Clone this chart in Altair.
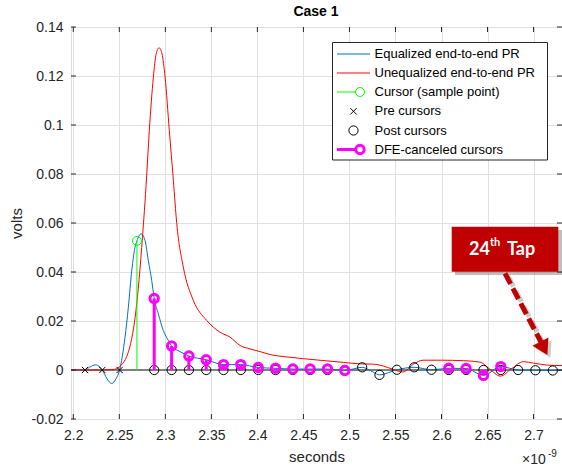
import altair as alt
import pandas as pd

# ---------------- data ----------------
# time axis in units of 1e-9 s
blue_t = [2.1975, 2.2050, 2.2127, 2.2180, 2.2240, 2.2290, 2.2315, 2.2365, 2.2417, 2.2465,
          2.2503, 2.2562, 2.2598, 2.2635, 2.2670, 2.2691, 2.2736, 2.2779, 2.2815, 2.2852,
          2.2879, 2.2924, 2.2978, 2.3033, 2.3068, 2.3160, 2.3256, 2.3444, 2.3632, 2.3820,
          2.4009, 2.4197, 2.4385, 2.4573, 2.4761, 2.4950, 2.5138, 2.5255, 2.5326, 2.5515,
          2.5703, 2.5891, 2.6079, 2.6267, 2.6456, 2.6644, 2.6832, 2.7020, 2.7209, 2.7309]
blue_v = [0.0, 0.0, 0.0, 0.0012, 0.0021, 0.0012, 0.0, -0.0035, -0.0055, -0.0035,
          0.0, 0.0134, 0.0256, 0.0406, 0.0501, 0.0527, 0.0556, 0.0529, 0.0447, 0.0365,
          0.0292, 0.0229, 0.0161, 0.0120, 0.0098, 0.0075, 0.0057, 0.0042, 0.0022, 0.0022,
          0.0010, 0.0007, 0.0004, 0.0004, 0.0004, -0.0002, 0.0011, -0.0008, -0.0020, 0.0001,
          0.0011, 0.0001, 0.0007, 0.0006, -0.0022, 0.0014, 0.0, -0.0001, -0.0002, -0.0002]

red_t = [2.1975, 2.2300, 2.2450, 2.2520, 2.2580, 2.2630, 2.2670, 2.2705, 2.2743, 2.2790,
         2.2826, 2.2870, 2.2900, 2.2931, 2.2964, 2.2997, 2.3043, 2.3087, 2.3124, 2.3195,
         2.3304, 2.3450, 2.3595, 2.3703, 2.3812, 2.3920, 2.4030, 2.4138, 2.4355, 2.4645,
         2.4935, 2.5116, 2.5250, 2.5370, 2.5480, 2.5580, 2.5700, 2.5800, 2.6000, 2.6240,
         2.6420, 2.6520, 2.6640, 2.6760, 2.6890, 2.7000, 2.7150, 2.7309]
red_v = [0.0, 0.0, 0.0003, 0.0020, 0.0055, 0.0120, 0.0210, 0.0330, 0.0500, 0.0750,
         0.0978, 0.1196, 0.1290, 0.1315, 0.1290, 0.1196, 0.0978, 0.0774, 0.0597, 0.0420,
         0.0284, 0.0202, 0.0154, 0.0134, 0.0100, 0.0086, 0.0075, 0.0063, 0.0052, 0.0041,
         0.0031, 0.0025, 0.0024, 0.0016, 0.0002, -0.0008, 0.0025, 0.0040, 0.0040, 0.0038,
         0.0032, 0.0005, -0.0025, 0.0005, 0.0034, 0.0028, 0.0020, 0.0018]

cursor_t = [2.2691]
cursor_v = [0.0527]

pre_t = [2.2127, 2.2315, 2.2503]
pre_v = [0.0, 0.0, 0.0]

post_t = [2.2879, 2.3068, 2.3256, 2.3444, 2.3632, 2.3820, 2.4009, 2.4197, 2.4385, 2.4573,
          2.4761, 2.4950, 2.5138, 2.5326, 2.5515, 2.5703, 2.5891, 2.6079, 2.6267, 2.6456,
          2.6644, 2.6832, 2.7020, 2.7209]
post_v = [0.0292, 0.0098, 0.0057, 0.0042, 0.0022, 0.0022, 0.0010, 0.0007, 0.0004, 0.0004,
          0.0004, -0.0002, 0.0011, -0.0020, 0.0001, 0.0011, 0.0001, 0.0007, 0.0006, -0.0022,
          0.0014, 0.0, -0.0001, -0.0002]
dfe_flag = [1, 1, 1, 1, 1, 1, 1, 1, 1, 1,
            1, 1, 0, 0, 0, 0, 0, 1, 1, 1,
            1, 0, 0, 0]

x_ticks = [2.2, 2.25, 2.3, 2.35, 2.4, 2.45, 2.5, 2.55, 2.6, 2.65, 2.7]
y_ticks = [-0.02, 0.0, 0.02, 0.04, 0.06, 0.08, 0.1, 0.12, 0.14]

legend_labels = ["Equalized end-to-end PR", "Unequalized end-to-end PR", "Cursor (sample point)",
                 "Pre cursors", "Post cursors", "DFE-canceled cursors"]
chart_title = "Case 1"

# ---------------- layout ----------------
PL, PT = 71, 27
W, H = 491, 392
FONT = "Liberation Sans"
AXC = "#262626"
BLUE, RED, GREEN, MAG = "#0072BD", "#FF0000", "#00FF00", "#FF00FF"
DARKRED = "#C00000"


def rx(px):
    return px - PL


def ry(py):
    return py - PT


xs = alt.Scale(domain=[2.1975, 2.7309], nice=False, zero=False)
ys = alt.Scale(domain=[-0.02, 0.14], nice=False, zero=False)

blue_df = pd.DataFrame({"t": blue_t, "v": blue_v})
red_df = pd.DataFrame({"t": red_t, "v": red_v})
cur_df = pd.DataFrame({"t": cursor_t, "v": cursor_v, "z": [0.0]})
pre_df = pd.DataFrame({"t": pre_t, "v": pre_v})
post_df = pd.DataFrame({"t": post_t, "v": post_v, "dfe": dfe_flag})
post_df["shown"] = [0.0 if f else v for v, f in zip(post_v, dfe_flag)]
post_df["z"] = 0.0
dfe_df = post_df[post_df["dfe"] == 1]
xt_df = pd.DataFrame({"t": x_ticks})
yt_df = pd.DataFrame({"v": y_ticks})
zero_df = pd.DataFrame({"v": [0.0]})
dummy = pd.DataFrame({"a": [0]})

x_axis = alt.Axis(values=x_ticks, format="~g", title="seconds", grid=True, gridColor="#e0e0e0",
                  ticks=False, domain=False, labelFont=FONT, labelFontSize=14, labelColor=AXC,
                  labelPadding=9, labelFlush=False, titleFont=FONT, titleFontSize=15,
                  titleFontWeight="normal", titleColor=AXC, titlePadding=7)
y_axis = alt.Axis(values=y_ticks,
                  labelExpr="datum.value < 0 ? '-' + format(-datum.value, '~g') : format(datum.value, '~g')",
                  title="volts", grid=True, gridColor="#e0e0e0", ticks=False, domain=False,
                  labelFont=FONT, labelFontSize=14, labelColor=AXC, labelPadding=8, labelFlush=False,
                  titleFont=FONT, titleFontSize=15, titleFontWeight="normal", titleColor=AXC,
                  titlePadding=7)


def X(f="t"):
    return alt.X(f"{f}:Q", scale=xs, axis=x_axis)


def Y(f="v"):
    return alt.Y(f"{f}:Q", scale=ys, axis=y_axis)


layers = []

# stem baseline
layers.append(alt.Chart(zero_df).mark_rule(color="#808080", strokeWidth=2).encode(
    y=Y(), x=alt.value(0), x2=alt.value(W)))
# curves
layers.append(alt.Chart(blue_df).mark_line(color=BLUE, strokeWidth=1, interpolate="monotone", clip=True).encode(
    x=X(), y=Y()))
layers.append(alt.Chart(red_df).mark_line(color=RED, strokeWidth=1, interpolate="monotone", clip=True).encode(
    x=X(), y=Y()))
# main cursor
layers.append(alt.Chart(cur_df).mark_rule(color=GREEN, strokeWidth=1).encode(x=X(), y=Y(), y2="z:Q"))
layers.append(alt.Chart(cur_df).mark_point(shape="circle", filled=False, color=GREEN, size=80,
                                           strokeWidth=1, opacity=1).encode(x=X(), y=Y()))
# pre cursors
XSHAPE = "M-1,-1L1,1M-1,1L1,-1"
layers.append(alt.Chart(pre_df).mark_point(shape=XSHAPE, filled=False, color="black", size=40,
                                           strokeWidth=1, opacity=1).encode(x=X(), y=Y()))
# post cursors
layers.append(alt.Chart(post_df).mark_point(shape="circle", filled=False, color="black", size=85,
                                            strokeWidth=1, opacity=1).encode(x=X(), y=Y("shown")))
# DFE-canceled cursors
layers.append(alt.Chart(dfe_df).mark_rule(color=MAG, strokeWidth=3).encode(x=X(), y=Y(), y2="z:Q"))
layers.append(alt.Chart(dfe_df).mark_point(shape="circle", filled=False, color=MAG, size=70,
                                           strokeWidth=3, opacity=1).encode(x=X(), y=Y()))

# inward tick marks on all four sides
layers.append(alt.Chart(xt_df).mark_rule(color=AXC).encode(x=X(), y=alt.value(H), y2=alt.value(H - 5)))
layers.append(alt.Chart(xt_df).mark_rule(color=AXC).encode(x=X(), y=alt.value(0), y2=alt.value(5)))
layers.append(alt.Chart(yt_df).mark_rule(color=AXC).encode(y=Y(), x=alt.value(0), x2=alt.value(5)))
layers.append(alt.Chart(yt_df).mark_rule(color=AXC).encode(y=Y(), x=alt.value(W), x2=alt.value(W - 5)))


def vrule(x1, y1, x2, y2, **kw):
    return alt.Chart(dummy).mark_rule(**kw).encode(
        x=alt.value(rx(x1)), y=alt.value(ry(y1)), x2=alt.value(rx(x2)), y2=alt.value(ry(y2)))


def vpoint(x, y, **kw):
    return alt.Chart(dummy).mark_point(**kw).encode(x=alt.value(rx(x)), y=alt.value(ry(y)))


def vtext(txt, x, y, **kw):
    return alt.Chart(dummy).mark_text(text=txt, **kw).encode(x=alt.value(rx(x)), y=alt.value(ry(y)))


def vrect(x1, y1, x2, y2, **kw):
    return alt.Chart(dummy).mark_rect(**kw).encode(
        x=alt.value(rx(x1)), y=alt.value(ry(y1)), x2=alt.value(rx(x2)), y2=alt.value(ry(y2)))


# title
layers.append(vtext(chart_title, 316, 16, align="center", baseline="alphabetic", font=FONT,
                    fontSize=14, fontWeight="bold", color="black"))

# legend box
layers.append(vrect(332.5, 42.5, 547.5, 160, fill="white", stroke=AXC, strokeWidth=1))
rows = [54, 73, 92, 111.3, 130.5, 149.5]
layers.append(vrule(337, rows[0], 370, rows[0], color=BLUE, strokeWidth=1))
layers.append(vrule(337, rows[1], 370, rows[1], color=RED, strokeWidth=1))
layers.append(vrule(337, rows[2], 355, rows[2], color=GREEN, strokeWidth=1))
layers.append(vpoint(360, rows[2], shape="circle", filled=False, color=GREEN, size=80, strokeWidth=1, opacity=1))
layers.append(vpoint(353.5, rows[3], shape=XSHAPE, filled=False, color="black", size=40, strokeWidth=1, opacity=1))
layers.append(vpoint(353.5, rows[4], shape="circle", filled=False, color="black", size=85, strokeWidth=1, opacity=1))
layers.append(vrule(337, rows[5], 355, rows[5], color=MAG, strokeWidth=3))
layers.append(vpoint(360, rows[5], shape="circle", filled=False, color=MAG, size=70, strokeWidth=3, opacity=1))
for lab, r in zip(legend_labels, rows):
    layers.append(vtext(lab, 374.5, r, align="left", baseline="middle", font=FONT, fontSize=13, color="black"))

# exponent label
layers.append(vtext("\u00d710", 522, 464, align="left", baseline="alphabetic", font=FONT, fontSize=14, color=AXC))
layers.append(vtext("-9", 548, 457, align="left", baseline="alphabetic", font=FONT, fontSize=10, color=AXC))

# annotation: "24th Tap" box with dashed arrow
layers.append(vrect(455, 230, 562, 275, fill="#000000", opacity=0.25))
layers.append(vrect(451.7, 226.7, 558.3, 271.7, fill=DARKRED))
layers.append(vtext("24", 469, 255, align="left", baseline="alphabetic", font="Lato", fontWeight="bold",
                    fontSize=18, color="white"))
layers.append(vtext("th", 490, 246, align="left", baseline="alphabetic", font="Lato", fontWeight="bold",
                    fontSize=11, color="white"))
layers.append(vtext("Tap", 507, 255, align="left", baseline="alphabetic", font="Lato", fontWeight="bold",
                    fontSize=18, color="white"))
ARROW = "M0,1L-1.2,-1L1.2,-1Z"
layers.append(vrule(508, 276, 544, 345, color="#000000", opacity=0.2, strokeWidth=5, strokeDash=[12, 5]))
layers.append(vpoint(547, 351, shape=ARROW, filled=True, color="#000000", size=225, angle=332.6,
                     strokeWidth=0, opacity=0.2))
layers.append(vrule(505, 273.3, 541, 342, color=DARKRED, strokeWidth=5, strokeDash=[12, 5]))
layers.append(vpoint(543.9, 348.3, shape=ARROW, filled=True, color=DARKRED, size=225, angle=332.6,
                     strokeWidth=0, opacity=1))

chart = alt.layer(*layers).properties(
    width=W, height=H,
    autosize=alt.AutoSizeParams(type="none"),
    padding={"left": PL, "top": PT, "right": 0, "bottom": 467 - PT - H},
).configure_view(stroke=AXC, strokeWidth=1).configure(background="white")

chart.save("out.html", embed_options={"renderer": "svg", "actions": False})
